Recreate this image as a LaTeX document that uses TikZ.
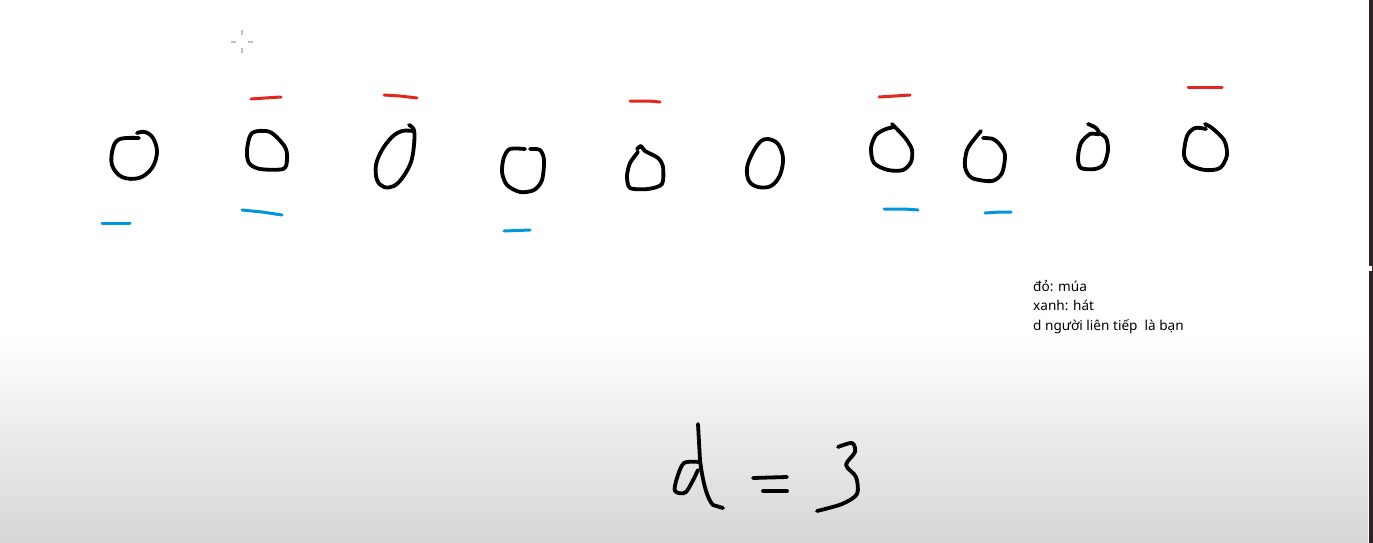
\documentclass[tikz,border=0pt]{standalone}
\usepackage{fontspec}
\newfontfamily\notefont{Noto Sans}
\begin{document}
\begin{tikzpicture}[x=1pt,y=-1pt,
  ink/.style={line width=3.8pt, line cap=round, line join=round, black},
  redmark/.style={line width=3pt, line cap=round, color=penred},
  bluemark/.style={line width=3pt, line cap=round, color=penblue},
  cross/.style={line width=1.2pt, color=black!25},
  note/.style={font=\notefont\fontsize{13.6}{19}\selectfont, anchor=base west, inner sep=0pt}]
\definecolor{penred}{RGB}{228,38,30}
\definecolor{penblue}{RGB}{0,150,220}
\definecolor{barcol}{RGB}{43,35,39}
\useasboundingbox (0,0) rectangle (1373,543);
% background
\fill[white] (0,0) rectangle (1373,543);
\shade[top color=white, bottom color=black!16] (0,335) rectangle (1368,543);
% right bar
\fill[barcol] (1368.5,0) rectangle (1373,543);
\fill[white] (1368.5,266) rectangle (1372,271);
% crosshair
\draw[cross] (242,30) -- (242,35) (242,48) -- (242,53) (231,42) -- (236,42) (248,42) -- (253,42);
% circles
\draw[ink] plot[smooth, tension=0.6] coordinates {(139,138) (120,139) (113,148) (112,165) (122,177) (139,178) (152,168) (157,152) (153,138) (145,132) (137,133)};
\draw[ink] plot[smooth cycle, tension=0.5] coordinates {(252,133) (270,132) (285,147) (287,160) (283,169) (260,169) (249,163) (247,150)};
\draw[ink] plot[smooth, tension=0.6] coordinates {(409,125) (414,130) (414,145) (411,162) (403,177) (394,186) (384,187) (377,180) (376,165) (382,150) (392,137) (402,131) (413,131)};
\draw[ink] plot[smooth, tension=0.5] coordinates {(525,149) (510,149) (504,157) (502,172) (507,185) (520,192) (534,190) (542,180) (544,160) (540,150) (530,149)};
\draw[ink] plot[smooth, tension=0.45] coordinates {(637,149) (641,146) (645,151) (658,158) (663,167) (662,184) (648,189) (630,188) (627,176) (630,163) (638,152)};
\draw[ink] plot[smooth cycle, tension=0.6] coordinates {(768,139) (778,144) (783,158) (780,175) (771,186) (758,187) (749,181) (747,168) (752,154) (760,142)};
\draw[ink] plot[smooth, tension=0.5] coordinates {(892,124) (896,128) (906,139) (912,150) (911,162) (903,170) (888,170) (874,163) (871,148) (876,135) (886,129) (895,127)};
\draw[ink] plot[smooth, tension=0.5] coordinates {(981,131) (976,137) (967,150) (965,167) (972,178) (992,181) (1002,173) (1005,155) (1000,145) (993,139) (983,138)};
\draw[ink] plot[smooth, tension=0.5] coordinates {(1088,124) (1096,128) (1099,134) (1090,134) (1081,143) (1078,158) (1081,168) (1095,169) (1104,164) (1108,150) (1106,138) (1099,133)};
\draw[ink] plot[smooth, tension=0.5] coordinates {(1206,129) (1195,128) (1187,136) (1184,155) (1190,165) (1205,170) (1220,168) (1227,155) (1224,140) (1212,128) (1205,124)};
% red marks
\draw[redmark] (251,99) -- (265,98) -- (281,97);
\draw[redmark] (384,95) -- (400,96) -- (417,98);
\draw[redmark] (630,101) -- (648,101) -- (660,102);
\draw[redmark] (879,97) -- (895,96) -- (910,95);
\draw[redmark] (1188,87) -- (1222,87);
% blue marks
\draw[bluemark] (102,223) -- (130,223);
\draw[bluemark] (242,210) -- (262,212) -- (282,215);
\draw[bluemark] (504,231) -- (530,230);
\draw[bluemark] (884,209) -- (905,209) -- (918,210);
\draw[bluemark] (985,213) -- (1000,212) -- (1011,212);
% notes
\node[note] (n1) at (1033,291) {đỏ: múa};
\node[note] (n2) at (1033,310) {xanh: hát};
\node[note] (n3) at (1033,330) {d người liên tiếp\ \ là bạn};
% d = 3
\draw[ink] (698,424) -- (700,460) .. controls (703,485) and (708,500) .. (713,505) -- (723,508);
\draw[ink] plot[smooth, tension=0.5] coordinates {(699,462) (684,463) (677,478) (675,491) (686,492) (698,470)};
\draw[ink] (753,478) -- (787,477);
\draw[ink] (763,491) -- (787,491);
\draw[ink] plot[smooth, tension=0.5] coordinates {(838,447) (852,443) (855,452) (846,465) (856,477) (857,494) (842,504) (817,511)};
\end{tikzpicture}
\end{document}
